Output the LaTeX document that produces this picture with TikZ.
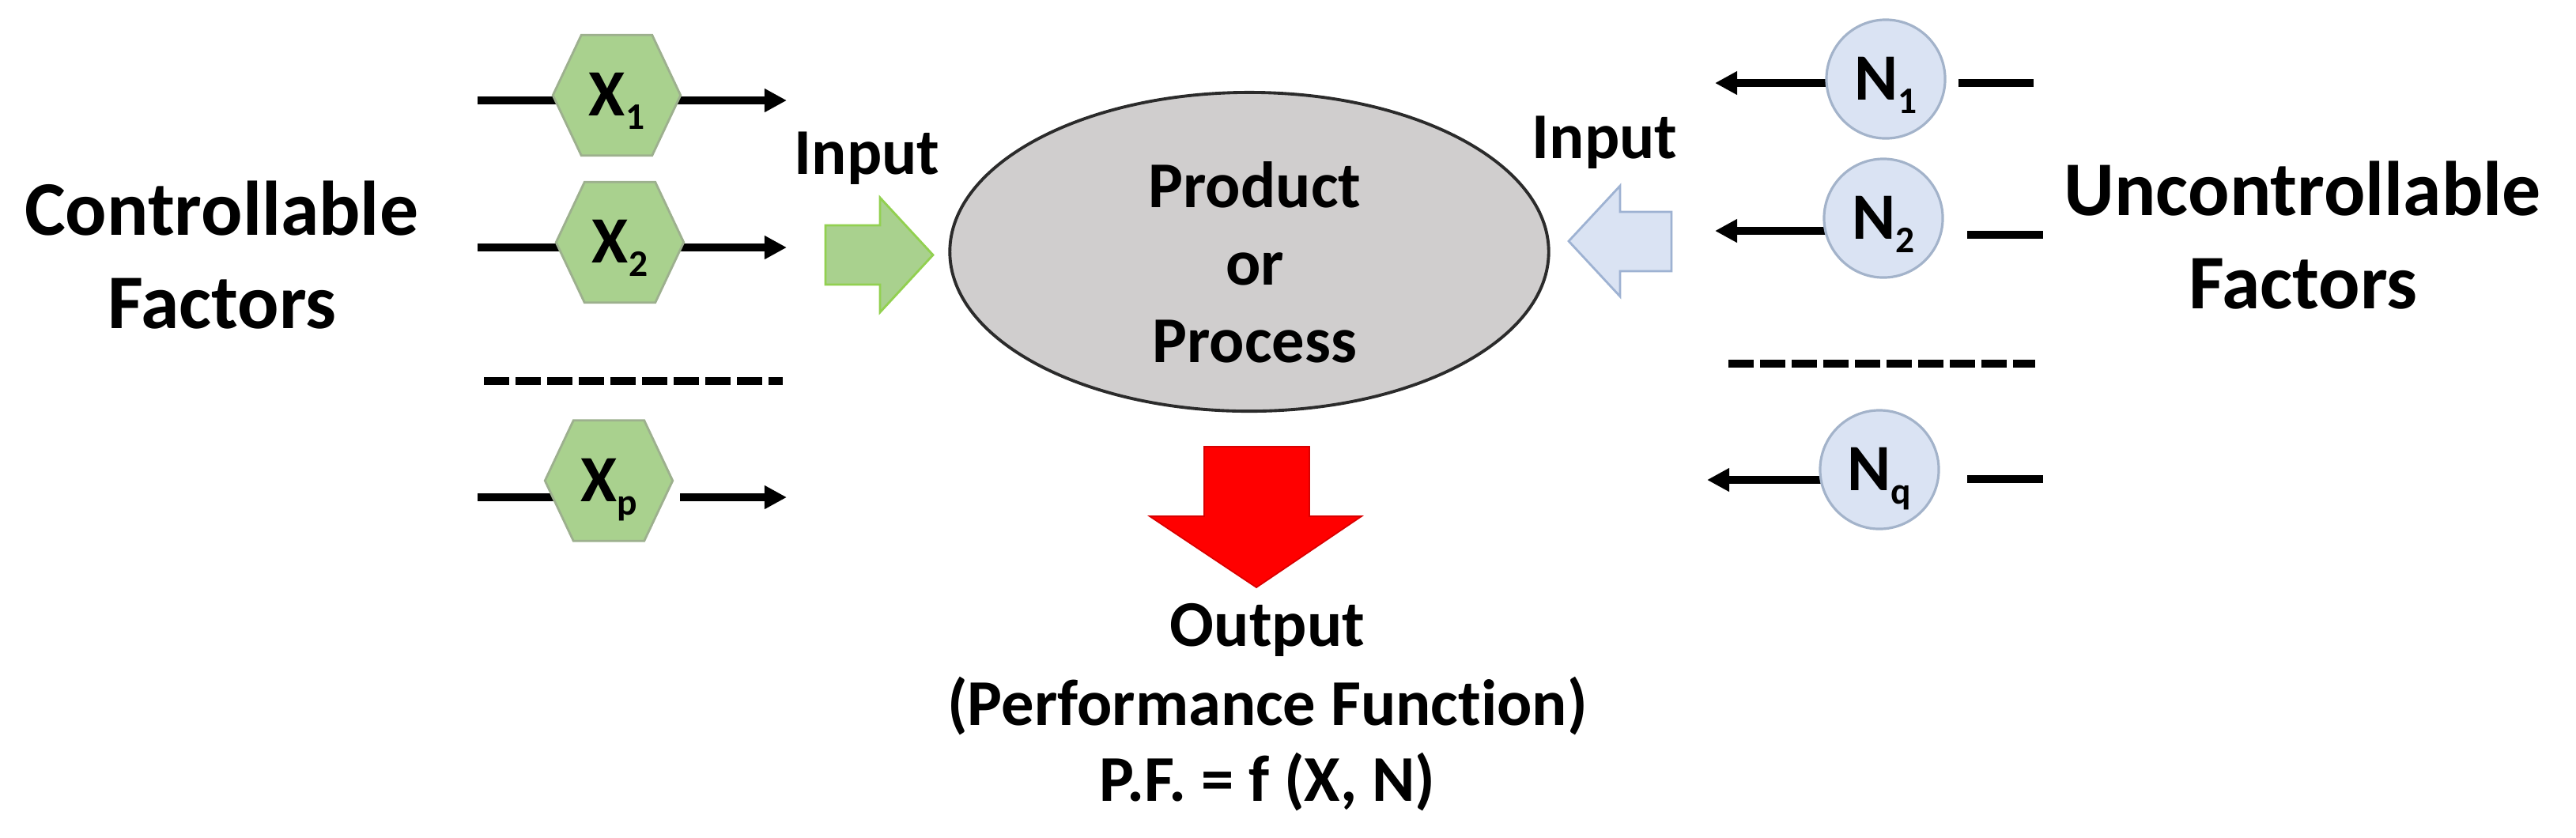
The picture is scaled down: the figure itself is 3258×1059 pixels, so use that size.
\documentclass[tikz,border=0pt]{standalone}
\usepackage{fontspec}
\setmainfont{Carlito}[Ligatures=NoCommon]
\usetikzlibrary{arrows.meta,shapes.geometric,calc}
\definecolor{hexfill}{HTML}{A9D18E}
\definecolor{hexborder}{HTML}{9DB08E}
\definecolor{greenborder}{HTML}{92D050}
\definecolor{circfill}{HTML}{DAE3F3}
\definecolor{circborder}{HTML}{A3B3CA}
\definecolor{blueborder}{HTML}{9EB2D2}
\definecolor{ellfill}{HTML}{D0CECE}
\definecolor{ellborder}{HTML}{2B2B2B}
\definecolor{redfill}{HTML}{FF0000}
\pgfdeclarelayer{bg}
\pgfdeclarelayer{mid}
\pgfsetlayers{bg,mid,main}
\newcommand\subs[1]{\raisebox{-4.8pt}{\fontsize{13.5pt}{13.5pt}\selectfont #1}}
\newcommand\hexagonpath[1]{\draw[hexstyle] (#1.west) -- ([xshift=0.36cm]#1.north west) -- ([xshift=-0.36cm]#1.north east) -- (#1.east) -- ([xshift=-0.36cm]#1.south east) -- ([xshift=0.36cm]#1.south west) -- cycle;}
\begin{document}
\begin{tikzpicture}[x=0.01cm,y=-0.01cm,
  biglbl/.style={font=\fontsize{27.8pt}{33pt}\selectfont\bfseries, inner sep=0pt},
  medlbl/.style={font=\fontsize{23.5pt}{28pt}\selectfont\bfseries, inner sep=0pt},
  hexnode/.style={minimum width=1.6cm, minimum height=1.51cm, inner sep=0pt, text height=15pt, text depth=0pt, font=\fontsize{23.8pt}{28pt}\selectfont\bfseries},
  hexstyle/.style={fill=hexfill, draw=hexborder, line width=0.8pt},
  ncirc/.style={circle, draw=circborder, fill=circfill, line width=0.9pt, minimum size=1.5cm, inner sep=0pt, text height=15pt, text depth=0pt, font=\fontsize{23.8pt}{28pt}\selectfont\bfseries},
  conn/.style={line width=2.6pt, draw=black},
  arrowed/.style={-{Triangle[length=0.28cm,width=0.28cm]}},
  dashline/.style={line width=2.6pt, dash pattern=on 0.32cm off 0.08cm},
  blockarrow/.style={line width=0.8pt}
]
\useasboundingbox (0,0) rectangle (3258,1059);

% left labels
\node[biglbl, anchor=base] (ctrl1) at (280,297) {Controllable};
\node[biglbl, anchor=base] (ctrl2) at (281,415) {Factors};

% hexagons (controllable factors)
\node[hexnode] (x1) at (780,120.5) {X\subs{1}};
\node[hexnode] (x2) at (784,306.5) {X\subs{2}};
\node[hexnode] (xp) at (770,608) {X\subs{p}};
\begin{pgfonlayer}{mid}
\hexagonpath{x1}
\hexagonpath{x2}
\hexagonpath{xp}
\end{pgfonlayer}

\coordinate (x1s) at (604,127); \coordinate (x1e) at (995,127);
\coordinate (x2s) at (604,313); \coordinate (x2e) at (995,313);
\coordinate (xps) at (604,629); \coordinate (xpm) at (860,629); \coordinate (xpe) at (995,629);
\coordinate (dl1) at (612,482); \coordinate (dl2) at (990,482);
\begin{pgfonlayer}{bg}
\draw[conn] (x1s) -- (x1 |- x1s);
\draw[conn,arrowed] (x1 |- x1s) -- (x1e);
\draw[conn] (x2s) -- (x2 |- x2s);
\draw[conn,arrowed] (x2 |- x2s) -- (x2e);
\draw[conn] (xps) -- (xp |- xps);
\draw[conn,arrowed] (xpm) -- (xpe);
\end{pgfonlayer}
\draw[dashline] (dl1) -- (dl2);

% inputs
\node[medlbl, anchor=base west] (inL) at (1004,220) {Input};
\node[medlbl, anchor=base east] (inR) at (2122,200) {Input};
\draw[blockarrow, fill=hexfill, draw=greenborder] (1044,285) -- (1113,285) -- (1113,250) -- (1180,322.5) -- (1113,395) -- (1113,360) -- (1044,360) -- cycle;
\draw[blockarrow, fill=circfill, draw=blueborder] (2114,268) -- (2049,268) -- (2049,235) -- (1984,305) -- (2049,375) -- (2049,343) -- (2114,343) -- cycle;

% process
\node[ellipse, draw=ellborder, fill=ellfill, line width=1.1pt, minimum width=7.57cm, minimum height=4.03cm, inner sep=0pt] (proc) at (1580,318.5) {};
\node[medlbl, anchor=base] (p1) at (1587,262) {Product};
\node[medlbl, anchor=base] (p2) at (1587,360) {or};
\node[medlbl, anchor=base] (p3) at (1587,458) {Process};

% output
\draw[blockarrow, fill=redfill, draw=red!85!black, line width=0.5pt] (1523,565) -- (1656,565) -- (1656,653) -- (1722,653) -- (1589,743) -- (1454,653) -- (1523,653) -- cycle;
\node[medlbl, anchor=base] (o1) at (1603,817) {Output};
\node[medlbl, anchor=base] (o2) at (1603,917) {(Performance Function)};
\node[medlbl, anchor=base] (o3) at (1603,1013) {P.F. = f (X, N)};

% uncontrollable factors
\node[ncirc] (n1) at (2385,100) {N\subs{1}};
\node[ncirc] (n2) at (2382,276) {N\subs{2}};
\node[ncirc] (nq) at (2377,594) {N\subs{q}};
\coordinate (n1t) at (2169,105); \coordinate (n1a) at (2477,105); \coordinate (n1b) at (2572,105);
\coordinate (n2t) at (2169,292); \coordinate (n2a) at (2488,297); \coordinate (n2b) at (2584,297);
\coordinate (nqt) at (2159,607); \coordinate (nqa) at (2488,606); \coordinate (nqb) at (2584,606);
\coordinate (dr1) at (2186,460); \coordinate (dr2) at (2574,460);
\begin{pgfonlayer}{bg}
\draw[conn,arrowed] (n1 |- n1t) -- (n1t);
\draw[conn,arrowed] (n2 |- n2t) -- (n2t);
\draw[conn,arrowed] (nq |- nqt) -- (nqt);
\end{pgfonlayer}
\draw[conn] (n1a) -- (n1b);
\draw[conn] (n2a) -- (n2b);
\draw[conn] (nqa) -- (nqb);
\draw[dashline] (dr1) -- (dr2);

\node[biglbl, anchor=base] (unc1) at (2912,272) {Uncontrollable};
\node[biglbl, anchor=base] (unc2) at (2913,390) {Factors};
\end{tikzpicture}
\end{document}
